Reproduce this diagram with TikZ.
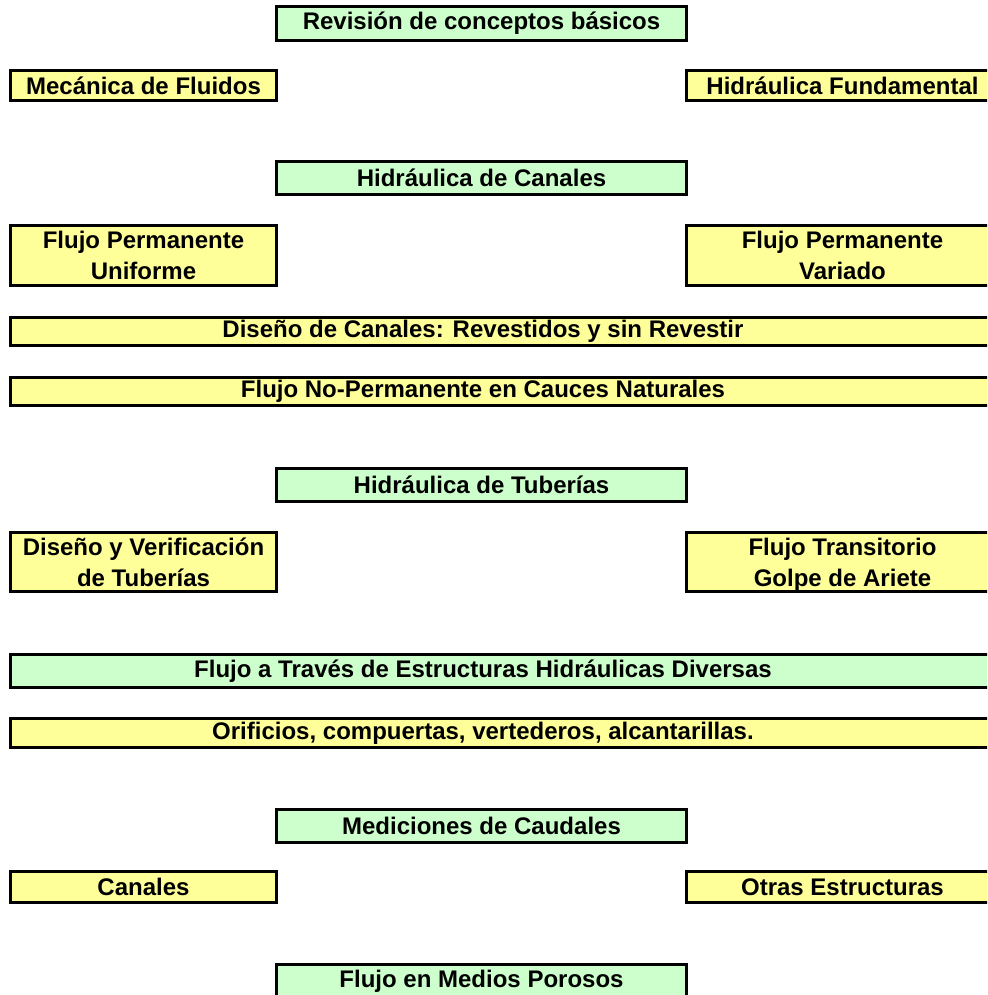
\documentclass[tikz,border=0pt]{standalone}
\usepackage{fontspec}
\setmainfont{Liberation Sans}
\definecolor{boxyellow}{RGB}{255,255,153}
\definecolor{boxgreen}{RGB}{204,255,204}
\tikzset{
  box/.style={draw=black, line width=3pt, rectangle, inner sep=0pt, align=center,
    font=\bfseries\fontsize{24}{31}\selectfont},
  yel/.style={box, fill=boxyellow},
  grn/.style={box, fill=boxgreen},
  lbl/.style={inner sep=0pt, align=center, font=\bfseries\fontsize{24}{31}\selectfont},
}
\begin{document}
\begin{tikzpicture}[x=1pt,y=-1pt]
\useasboundingbox (0,0) rectangle (987,995);
\clip (0,0) rectangle (987,995);
\fill[white] (0,0) rectangle (987,995);
% central green headers
\node[grn, minimum width=410pt, minimum height=34pt] (rev) at (481.5,23.5) {Revisión de conceptos básicos};
\node[grn, minimum width=410pt, minimum height=33pt] (hcan) at (481.5,178) {Hidráulica de Canales};
\node[grn, minimum width=410pt, minimum height=33pt] (htub) at (481.5,485) {Hidráulica de Tuberías};
\node[grn, minimum width=410pt, minimum height=33pt] (med) at (481.5,826) {Mediciones de Caudales};
\node[grn, minimum width=410pt, minimum height=33pt] (fmp) at (481.5,981) {Flujo en Medios Porosos};
% left / right yellow boxes
\node[yel, minimum width=266pt, minimum height=30pt] (mec) at (143.5,85.5) {Mecánica de Fluidos};
\node[yel, minimum width=312pt, minimum height=30pt] (hfund) at (842.5,85.5) {Hidráulica Fundamental};
\node[yel, minimum width=266pt, minimum height=60pt] (fpu) at (143.5,255.5) {Flujo Permanente\\Uniforme};
\node[yel, minimum width=312pt, minimum height=60pt] (fpv) at (842.5,255.5) {Flujo Permanente\\Variado};
\node[yel, minimum width=266pt, minimum height=59pt] (dvt) at (143.5,562) {Diseño y Verificación\\de Tuberías};
\node[yel, minimum width=312pt, minimum height=59pt] (ftga) at (842.5,562) {Flujo Transitorio\\\smash{Golpe de Ariete}};
\node[yel, minimum width=266pt, minimum height=31pt] (can) at (143.5,887) {Canales};
\node[yel, minimum width=312pt, minimum height=31pt] (otr) at (842.5,887) {Otras Estructuras};
% wide boxes
\node[yel, minimum width=988pt, minimum height=28pt] (dis) at (504.5,331.5) {};
\node[lbl] (distxt) at (483,331.5) {Diseño de Canales: Revestidos y sin Revestir};
\node[yel, minimum width=988pt, minimum height=28pt] (fnp) at (504.5,391.5) {};
\node[lbl] (fnptxt) at (483,391.5) {Flujo No-Permanente en Cauces Naturales};
\node[grn, minimum width=988pt, minimum height=33pt] (fat) at (504.5,671) {};
\node[lbl] (fattxt) at (483,671) {Flujo a Través de Estructuras Hidráulicas Diversas};
\node[yel, minimum width=988pt, minimum height=29pt] (ori) at (504.5,733) {};
\node[lbl] (oritxt) at (483,733) {Orificios, compuertas, vertederos, alcantarillas.};
\end{tikzpicture}
\end{document}
